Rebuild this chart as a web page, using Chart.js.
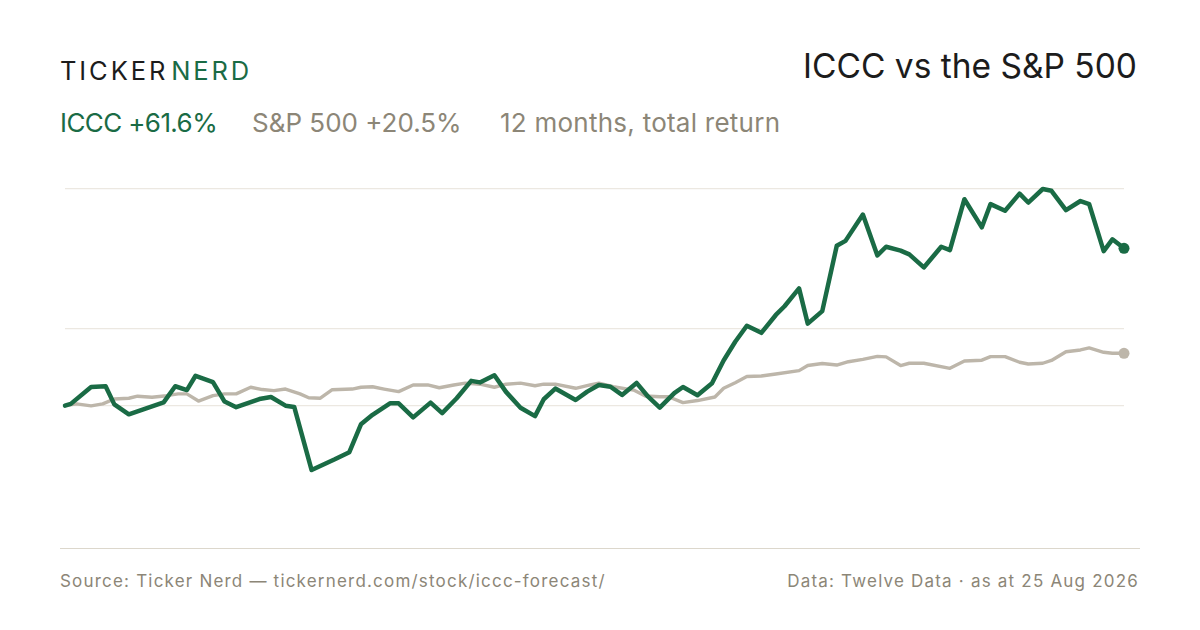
<!DOCTYPE html>
<html lang="en">
<head>
<meta charset="UTF-8">
<title>ICCC vs the S&amp;P 500</title>
<script src="https://cdn.jsdelivr.net/npm/chart.js"></script>
<style>
  html, body { margin: 0; padding: 0; background: #fff; }
  body { width: 1200px; height: 630px; position: relative; overflow: hidden; font-family: Inter, "Liberation Sans", sans-serif; }
  .t { position: absolute; line-height: 1; white-space: nowrap; }
  #logo { left: 60px; top: 58px; font-size: 25.5px; letter-spacing: 2.9px; color: #1c1c1c; }
  #logo .nerd { color: #1a6b45; margin-left: 3px; }
  #title { right: 63px; top: 50px; font-size: 33.5px; color: #1c1c1c; }
  .sub { top: 110px; font-size: 26px; color: #8c8677; }
  #subIccc { left: 60px; color: #1a6b45; letter-spacing: -0.6px; }
  #subSpx { left: 252px; }
  #subPeriod { left: 500px; letter-spacing: 0.25px; }
  .foot { top: 573px; font-size: 17px; color: #8c8677; letter-spacing: 1.2px; }
  #footL { left: 60px; }
  #footR { right: 61px; }
  #rule { position: absolute; left: 60px; top: 548px; width: 1080px; height: 0; border-top: 1.5px solid #dcd7cc; }
  #wrap { position: absolute; left: 55px; top: 175px; width: 1080px; height: 320px; }
</style>
</head>
<body>

<div class="t" id="logo">TICKER<span class="nerd">NERD</span></div>
<div class="t" id="title">ICCC vs the S&amp;P 500</div>
<div class="t sub" id="subIccc">ICCC +61.6%</div>
<div class="t sub" id="subSpx">S&amp;P 500 +20.5%</div>
<div class="t sub" id="subPeriod">12 months, total return</div>

<div id="wrap"><canvas id="chart"></canvas></div>

<div id="rule"></div>
<div class="t foot" id="footL">Source: Ticker Nerd — tickernerd.com/stock/iccc-forecast/</div>
<div class="t foot" id="footR">Data: Twelve Data · as at 25 Aug 2026</div>

<script>
// days since 25 Aug 2025, total return in %
const iccDays = [0, 2, 9, 14, 17, 22, 34, 38, 42, 45, 51, 55, 59, 67, 71, 76, 79, 85, 93, 98,
  102, 106, 112, 115, 120, 126, 130, 135, 140, 143, 148, 152, 157, 162, 165, 169, 176, 180, 184, 188,
  192, 197, 201, 205, 210, 213, 218, 223, 227, 231, 235, 240, 245, 248, 253, 256, 261, 266, 269, 275,
  280, 283, 288, 291, 296, 302, 305, 310, 316, 319, 324, 329, 332, 337, 340, 345, 350, 353, 358, 361, 365];
const iccReturn = [0, 0.7, 7.3, 7.6, 0.5, -3.4, 1.3, 7.6, 6.1, 11.7, 9.2, 1.6, -0.6, 2.6, 3.4, 0, -0.5, -25.2, -21.0, -18.2,
  -7.3, -3.6, 0.9, 0.9, -4.6, 1.2, -2.9, 2.9, 9.7, 9.1, 11.9, 5.4, -0.8, -4.1, 2.5, 6.7, 2.2, 5.5, 8.1, 7.4,
  4.2, 8.9, 3.5, -0.8, 4.9, 7.3, 4.1, 8.8, 17.7, 25.0, 31.3, 28.5, 35.5, 38.9, 45.9, 32.1, 37.0, 62.6, 64.5, 74.8,
  58.8, 62.2, 60.7, 59.2, 54.1, 62.2, 60.9, 80.8, 69.8, 78.9, 76.3, 83.0, 79.5, 84.8, 84.1, 76.5, 80.1, 78.9, 60.5, 65.1, 61.6];

const spxDays = [0, 4, 9, 13, 17, 22, 25, 30, 35, 39, 42, 46, 51, 55, 59, 64, 68, 72, 76, 81,
  84, 88, 92, 99, 102, 106, 110, 115, 120, 125, 129, 134, 138, 143, 148, 152, 157, 162, 165, 169,
  176, 181, 184, 189, 196, 200, 205, 208, 213, 218, 224, 227, 231, 235, 240, 245, 253, 256, 261, 266,
  270, 275, 280, 283, 288, 291, 296, 305, 310, 316, 319, 324, 329, 332, 337, 340, 345, 350, 353, 358, 361, 365];
const spxReturn = [0, 0.7, -0.1, 0.7, 2.6, 2.9, 3.7, 3.3, 3.9, 4.6, 4.6, 1.8, 3.9, 4.6, 4.6, 7.2, 6.3, 5.9, 6.5, 4.6,
  3.1, 2.9, 6.2, 6.5, 7.2, 7.4, 6.5, 5.5, 8.1, 8.1, 7.0, 8.1, 8.8, 8.4, 7.2, 8.4, 8.8, 7.8, 8.4, 8.4,
  6.8, 8.1, 8.8, 7.4, 6.1, 3.8, 3.5, 3.5, 1.2, 2.0, 3.4, 6.8, 9.0, 11.4, 11.6, 12.4, 13.7, 15.7, 16.5, 15.9,
  17.2, 18.1, 19.3, 19.1, 15.7, 16.6, 16.6, 14.6, 17.5, 17.8, 19.2, 19.2, 17.0, 16.3, 16.6, 17.7, 21.1, 21.8, 22.6, 20.9, 20.5, 20.5];

const gridTicks = [0, 30, 85];

const green = '#1a6b45';
const tan = '#bdb6aa';

function pairs(xs, ys) {
  return xs.map((x, i) => ({ x: x, y: ys[i] }));
}
function lastDot(r) {
  return ctx => ctx.dataIndex === ctx.dataset.data.length - 1 ? r : 0;
}

new Chart(document.getElementById('chart'), {
  type: 'line',
  data: {
    datasets: [{
      label: 'ICCC',
      data: pairs(iccDays, iccReturn),
      borderColor: green,
      backgroundColor: green,
      borderWidth: 4.5,
      borderJoinStyle: 'round',
      borderCapStyle: 'round',
      pointRadius: lastDot(5.5),
      pointBorderWidth: 0,
      clip: false
    }, {
      label: 'S&P 500',
      data: pairs(spxDays, spxReturn),
      borderColor: tan,
      backgroundColor: tan,
      borderWidth: 3.4,
      borderJoinStyle: 'round',
      borderCapStyle: 'round',
      pointRadius: lastDot(5.5),
      pointBorderWidth: 0,
      clip: false
    }]
  },
  options: {
    responsive: true,
    maintainAspectRatio: false,
    animation: false,
    layout: { padding: { left: 10, right: 11, top: 13.5, bottom: 12.7 } },
    plugins: { legend: { display: false }, tooltip: { enabled: false } },
    scales: {
      x: { type: 'linear', min: 0, max: 365, display: false },
      y: {
        min: -30,
        max: 85,
        afterBuildTicks: axis => { axis.ticks = gridTicks.map(v => ({ value: v })); },
        ticks: { display: false },
        border: { display: false },
        grid: { color: '#ece8e1', lineWidth: 1.2, drawTicks: false }
      }
    }
  }
});
</script>
</body>
</html>
